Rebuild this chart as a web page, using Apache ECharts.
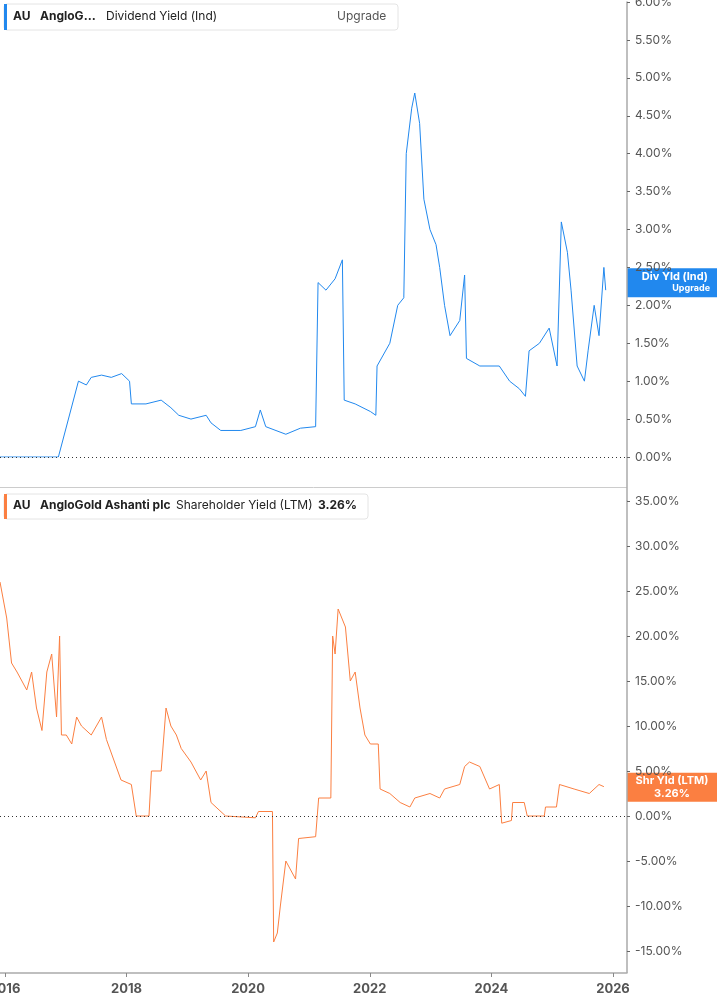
<!DOCTYPE html>
<html><head><meta charset="utf-8">
<script src="https://cdn.jsdelivr.net/npm/echarts@6/dist/echarts.min.js"></script>
<style>html,body{margin:0;padding:0;background:#fff}#c{width:717px;height:1005px}</style>
</head><body><div id="c"></div>
<script>
// Dividend Yield (Ind) – decimal year, percent
const divYears = [2015.92,2016.88,2017.21,2017.34,2017.42,2017.59,2017.75,2017.92,2018.05,2018.08,2018.32,2018.57,2018.73,2018.86,2019.06,2019.31,2019.39,2019.55,2019.88,2020.12,2020.2,2020.29,2020.62,2020.86,2021.11,2021.15,2021.28,2021.43,2021.55,2021.58,2021.76,2022.01,2022.1,2022.12,2022.33,2022.46,2022.56,2022.6,2022.69,2022.74,2022.82,2022.89,2022.99,2023.09,2023.15,2023.23,2023.32,2023.48,2023.56,2023.59,2023.81,2024.13,2024.3,2024.46,2024.56,2024.62,2024.79,2024.95,2025.08,2025.15,2025.25,2025.31,2025.41,2025.53,2025.59,2025.69,2025.77,2025.85,2025.88];
const divValues = [0,0,1.0,0.95,1.05,1.08,1.05,1.1,1.0,0.7,0.7,0.75,0.65,0.55,0.5,0.55,0.45,0.35,0.35,0.4,0.62,0.4,0.3,0.38,0.4,2.3,2.2,2.35,2.6,0.75,0.7,0.6,0.55,1.2,1.5,2.0,2.1,4.0,4.6,4.8,4.4,3.4,3.0,2.8,2.5,2.0,1.6,1.8,2.4,1.3,1.2,1.2,1.0,0.9,0.8,1.4,1.5,1.7,1.2,3.1,2.7,2.2,1.2,1.0,1.4,2.0,1.6,2.5,2.2];
// Shareholder Yield (LTM)
const shrYears = [2015.92,2016.03,2016.11,2016.2,2016.28,2016.36,2016.44,2016.52,2016.61,2016.69,2016.77,2016.85,2016.9,2016.93,2017.01,2017.1,2017.18,2017.26,2017.42,2017.59,2017.67,2017.75,2017.91,2018.08,2018.16,2018.37,2018.41,2018.57,2018.65,2018.73,2018.82,2018.9,2019.06,2019.14,2019.22,2019.31,2019.39,2019.63,2020.12,2020.17,2020.4,2020.42,2020.48,2020.53,2020.62,2020.7,2020.78,2020.83,2021.11,2021.16,2021.36,2021.39,2021.43,2021.48,2021.6,2021.68,2021.76,2021.84,2021.92,2022.01,2022.14,2022.17,2022.33,2022.5,2022.66,2022.74,2022.99,2023.15,2023.23,2023.48,2023.56,2023.64,2023.81,2023.97,2024.13,2024.17,2024.33,2024.35,2024.54,2024.59,2024.87,2024.89,2025.07,2025.12,2025.36,2025.61,2025.77,2025.85];
const shrValues = [26,22,17,16,15,14,16,12,9.5,16,18,11,20,9,9,8,11,10,9,11,8.5,7,4,3.5,0,0,5,5,12,10,9,7.5,6,5,4,5,1.5,0,-0.2,0.5,0.5,-14,-13,-10,-5,-6,-7,-2.5,-2.3,2,2,20,18,23,21,15,16,12,9,8,8,3,2.5,1.5,1,2,2.5,2,3,3.5,5.5,6,5.5,3,3.5,-0.8,-0.5,1.5,1.5,0,0,1,1,3.5,3,2.5,3.5,3.26];
const tickYears = [2016,2018,2020,2022,2024,2026];

const BLUE='#2188ee', ORANGE='#fb7f41';
const xMin=2015.92, xMax=2026.23;
const lbl={color:'#555',fontFamily:'Inter',fontSize:12};
const ch=echarts.init(document.getElementById('c'));
ch.setOption({
  animation:false,
  grid:[{left:0,right:90,top:2,height:455,outerBoundsMode:'none',containLabel:false},
        {left:0,right:90,top:501,height:450,outerBoundsMode:'none',containLabel:false}],
  xAxis:[
    {type:'value',gridIndex:0,min:xMin,max:xMax,show:false},
    {type:'value',gridIndex:1,min:xMin,max:xMax,offset:22,
     axisLine:{onZero:false,lineStyle:{color:'#aaa',width:1.5}},
     axisTick:{show:true,customValues:tickYears,length:4,lineStyle:{color:'#888'}},
     axisLabel:{customValues:tickYears,formatter:v=>String(Math.round(v)),color:'#555',fontWeight:'bold',fontFamily:'Inter',fontSize:13,margin:10},
     splitLine:{show:false}}
  ],
  yAxis:[
    {type:'value',gridIndex:0,position:'right',min:0,max:6,interval:0.5,
     axisLine:{show:true,lineStyle:{color:'#aaa',width:1.5}},axisTick:{show:true,length:3,lineStyle:{color:'#666'}},
     axisLabel:{...lbl,margin:8,formatter:v=>v.toFixed(2)+'%'},splitLine:{show:false}},
    {type:'value',gridIndex:1,position:'right',min:-15,max:35,interval:5,
     axisLine:{show:true,lineStyle:{color:'#aaa',width:1.5}},axisTick:{show:true,length:3,lineStyle:{color:'#666'}},
     axisLabel:{...lbl,margin:8,formatter:v=>v.toFixed(2)+'%'},splitLine:{show:false}}
  ],
  series:[
    {type:'line',xAxisIndex:0,yAxisIndex:0,showSymbol:false,lineStyle:{color:BLUE,width:1},
     data:divYears.map((y,i)=>[y,divValues[i]]),
     markLine:{silent:true,symbol:'none',label:{show:false},lineStyle:{color:'#333',type:[1,3],width:1},data:[{yAxis:0}]}},
    {type:'line',xAxisIndex:1,yAxisIndex:1,showSymbol:false,lineStyle:{color:ORANGE,width:1},
     data:shrYears.map((y,i)=>[y,shrValues[i]]),
     markLine:{silent:true,symbol:'none',label:{show:false},lineStyle:{color:'#333',type:[1,3],width:1},data:[{yAxis:0}]}}
  ]
});
const pd=ch.convertToPixel({xAxisIndex:0,yAxisIndex:0},[2020,divValues[divValues.length-1]]);
const ps=ch.convertToPixel({xAxisIndex:1,yAxisIndex:1},[2020,shrValues[shrValues.length-1]]);
const tf={fontFamily:'Inter',fontSize:12,fontWeight:'bold'};
ch.setOption({graphic:[
  {type:'line',shape:{x1:0,y1:487.5,x2:627,y2:487.5},style:{stroke:'#ccc',lineWidth:1}},
  {type:'line',shape:{x1:627,y1:457,x2:627,y2:501},style:{stroke:'#aaa',lineWidth:1.5}},
  {type:'line',shape:{x1:627,y1:951,x2:627,y2:973},style:{stroke:'#aaa',lineWidth:1.5}},
  {type:'rect',shape:{x:4,y:4,width:394,height:26,r:3},style:{fill:'#fff',stroke:'#e4e4e4'}},
  {type:'rect',shape:{x:4,y:4,width:3,height:26},style:{fill:BLUE}},
  {type:'text',x:13,y:10,style:{text:'AU',fill:'#222',...tf}},
  {type:'text',x:40,y:10,style:{text:'AngloG…',fill:'#222',...tf}},
  {type:'text',x:106,y:10,style:{text:'Dividend Yield (Ind)',fill:'#222',...tf,fontWeight:'normal'}},
  {type:'text',x:337,y:10,style:{text:'Upgrade',fill:'#555',...tf,fontWeight:'normal'}},
  {type:'rect',shape:{x:4,y:494,width:364,height:25,r:3},style:{fill:'#fff',stroke:'#e4e4e4'}},
  {type:'rect',shape:{x:4,y:494,width:3,height:25},style:{fill:ORANGE}},
  {type:'text',x:13,y:499,style:{text:'AU',fill:'#222',...tf}},
  {type:'text',x:40,y:499,style:{text:'AngloGold Ashanti plc',fill:'#222',...tf}},
  {type:'text',x:176,y:499,style:{text:'Shareholder Yield (LTM)',fill:'#222',...tf,fontWeight:'normal'}},
  {type:'text',x:318,y:499,style:{text:'3.26%',fill:'#222',...tf}},
  {type:'rect',shape:{x:627,y:pd[1]-22,width:90,height:29},style:{fill:BLUE}},
  {type:'text',x:708,y:pd[1]-19,style:{text:'Div Yld (Ind)',fill:'#fff',...tf,fontSize:11,align:'right'}},
  {type:'text',x:710,y:pd[1]-6,style:{text:'Upgrade',fill:'#fff',...tf,fontSize:9,align:'right'}},
  {type:'rect',shape:{x:627,y:ps[1]-14,width:90,height:29},style:{fill:ORANGE}},
  {type:'text',x:672,y:ps[1]-11,style:{text:'Shr Yld (LTM)',fill:'#fff',...tf,fontSize:11,align:'center'}},
  {type:'text',x:672,y:ps[1]+2,style:{text:'3.26%',fill:'#fff',...tf,fontSize:11,align:'center'}}
]});
</script></body></html>
